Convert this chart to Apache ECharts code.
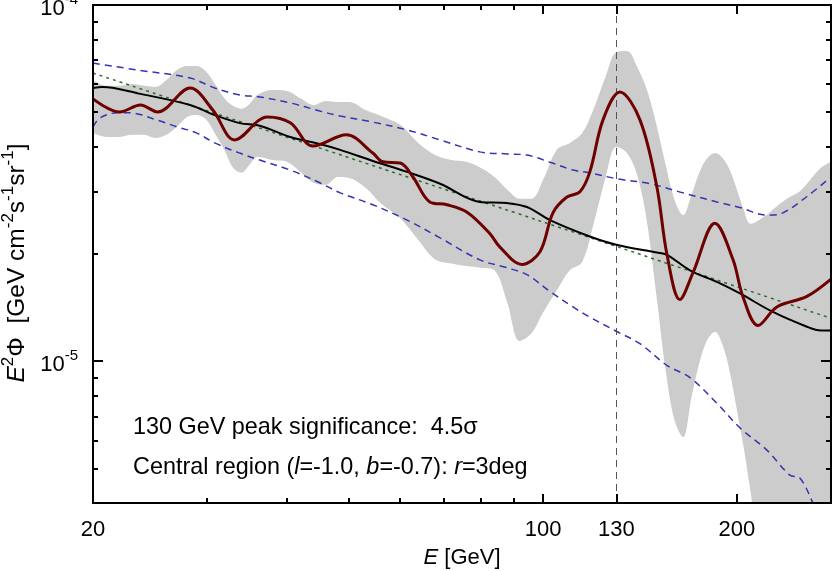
<!DOCTYPE html>
<html>
<head>
<meta charset="utf-8">
<script src="https://cdn.jsdelivr.net/npm/echarts@6.0.0/dist/echarts.min.js"></script>
<style>
html, body { margin: 0; padding: 0; background: #fff; }
#chart { width: 832px; height: 571px; }
</style>
</head>
<body>
<div id="chart"></div>
<script>
// flux values are in units of 1e-5 GeV cm^-2 s^-1 sr^-1
const UNIT = 1e-5;

// tick positions
const xMajor = [20, 100, 130, 200];
const xMinor = [30, 40, 50, 60, 70, 80, 90];
const yMajor = [1e-5, 1e-4];
const yMinor = [5e-6, 6e-6, 7e-6, 8e-6, 9e-6, 2e-5, 3e-5, 4e-5, 5e-5, 6e-5, 7e-5, 8e-5, 9e-5];

// grey band (energy in GeV, lower / upper edge)
const bandE = [20,21,22,23,24,25,26,27,28,29,30,31,32,33,34,35,36,38,40,42,44,46,48,50,
  53,56,60,64,68,72,76,80,84,88,92,96,100,105,110,115,120,125,130,135,140,145,150,155,160,
  165,170,175,180,185,190,195,200,205,210,220,230,240,250,260,270,280];
const bandHi = [6.16,5.93,5.93,6.00,5.93,5.89,6.16,6.57,6.74,6.74,6.49,5.96,5.47,5.21,5.11,5.27,5.59,
  5.77,5.74,5.47,5.24,5.38,5.34,5.34,
  5.07,4.88,4.61,4.10,3.79,3.67,3.63,3.49,3.29,3.03,2.86,2.86,3.23,
  3.92,4.10,4.37,5.15,6.28,7.38,7.43,6.70,5.77,4.61,3.56,2.84,2.57,2.93,3.40,3.72,3.84,3.72,3.44,3.03,
  2.66,2.43,2.54,2.71,2.87,2.99,3.23,3.49,3.63];
const bandLo = [4.37,4.26,4.26,4.32,4.32,4.23,4.32,4.55,4.85,4.91,4.76,4.32,3.92,3.49,3.38,3.56,3.75,
  3.67,3.63,3.40,3.17,3.13,3.29,3.27,
  3.07,2.77,2.52,2.19,1.93,1.88,1.85,1.83,1.80,1.46,1.14,1.20,1.37,
  1.58,1.80,1.90,2.46,3.27,4.00,3.84,3.33,2.46,1.53,0.944,0.683,0.612,0.792,0.993,1.15,1.21,1.11,0.932,0.729,
  0.57,0.43,0.25,0.25,0.25,0.25,0.25,0.25,0.25];

// fitted spectrum (dark red)
const fit = [[20,5.45],[22,5.01],[23.7,5.24],[25.2,5.01],[28.3,5.85],[30.7,5.07],[33.2,4.18],[37.3,4.85],
  [40.5,4.67],[43.9,4.02],[49.5,4.32],[54.4,3.84],[56.4,3.63],[60,3.60],[62.8,3.29],[66.7,2.80],[70.9,2.75],
  [76.2,2.62],[82.7,2.28],[85.7,2.09],[92.7,1.87],[98.9,2.03],[103.6,2.61],[108.9,2.89],[114.1,2.99],
  [118.2,3.40],[123.9,4.76],[131.6,5.70],[141.4,4.76],[150.2,3.09],[155.7,2.00],[163.1,1.49],[170.9,1.77],
  [184.9,2.44],[197.2,1.93],[204.3,1.52],[215.6,1.26],[230.7,1.42],[256.9,1.52],[280,1.70]];

// central model (black)
const central = [[20,5.85],[20.7,5.89],[23.7,5.63],[28.3,5.24],[30.9,4.91],[33.8,4.66],[36.3,4.58],
  [40.5,4.26],[45,4.07],[48.4,3.92],[54.4,3.65],[61.5,3.40],[69.2,3.15],[79.8,2.80],[87.9,2.78],
  [94.4,2.71],[102.5,2.49],[118.2,2.24],[130.4,2.12],[150.2,2.02],[155.7,1.99],[169.1,1.80],
  [186.2,1.67],[202.2,1.55],[227.5,1.375],[256.9,1.25],[270,1.22],[280,1.22]];

// blue dashed envelopes
const envHi = [[20,6.87],[23.7,6.55],[28.3,6.24],[30.9,5.85],[33.8,5.59],[36.3,5.52],[40.5,5.31],[45,5.04],
  [48.4,4.88],[54.4,4.69],[61.5,4.46],[69.2,4.18],[79.8,3.87],[87.9,3.82],[94.4,3.79],[102.5,3.62],
  [111.3,3.44],[118.2,3.38],[130.4,3.25],[146.6,3.15],[164.9,2.97],[186.2,2.80],[202.2,2.70],
  [222.6,2.57],[235.8,2.61],[256.9,2.90],[280,3.29]];
const envLo = [[20,4.55],[20.5,4.82],[21.8,4.98],[22.8,4.98],[25.1,4.76],[27,4.55],[29,4.37],[30.9,4.10],
  [33.8,3.84],[36.3,3.67],[40.5,3.44],[45,3.17],[48.4,2.97],[54.4,2.75],[61.5,2.49],[69.2,2.22],
  [79.8,1.925],[87.9,1.83],[94.4,1.75],[102.5,1.57],[111.3,1.42],[118.2,1.33],[130.4,1.21],[141.4,1.12],
  [155.7,0.974],[169.1,0.90],[186.2,0.762],[202.2,0.65],[222.6,0.563],[241.7,0.479],[250.5,0.47],
  [262.4,0.40],[280,0.30]];

// power law (green dotted)
const powerLaw = [[20,6.44],[100,2.46],[280,1.32]];

const FONT = 'Liberation Sans';
const toPts = pairs => pairs.map(p => [p[0], p[1] * UNIT]);

function xAx(pos, ticks, len, withLabels) {
  return {
    type: 'log', logBase: 10, min: 20, max: 280, position: pos, z: 10,
    axisLine: { show: true, onZero: false, lineStyle: { color: '#000', width: 2 } },
    axisTick: { show: true, inside: true, length: len, customValues: ticks,
      lineStyle: { color: '#000', width: 2 } },
    axisLabel: withLabels ? {
      show: true, customValues: ticks, margin: 16, color: '#000',
      fontFamily: FONT, fontSize: 22, formatter: v => String(Math.round(v))
    } : { show: false },
    splitLine: { show: false }
  };
}
function yAx(pos, ticks, len, withLabels) {
  return {
    type: 'log', logBase: 10, min: 4e-6, max: 1e-4, position: pos, z: 10,
    axisLine: { show: true, onZero: false, lineStyle: { color: '#000', width: 2 } },
    axisTick: { show: true, inside: true, length: len, customValues: ticks,
      lineStyle: { color: '#000', width: 2 } },
    axisLabel: withLabels ? {
      show: true, customValues: ticks, margin: 15, color: '#000', padding: [8, 0, 0, 0],
      formatter: v => '{b|10}{s|' + Math.round(Math.log10(v)) + '}',
      rich: {
        b: { fontFamily: FONT, fontSize: 22, lineHeight: 34, color: '#000' },
        s: { fontFamily: FONT, fontSize: 15, lineHeight: 15, verticalAlign: 'top', color: '#000' }
      }
    } : { show: false },
    splitLine: { show: false }
  };
}

const xAxes = [xAx('bottom', xMajor, 9, true), xAx('top', xMajor, 9, false),
  xAx('bottom', xMinor, 5, false), xAx('top', xMinor, 5, false)];
xAxes[0].name = '{i|E} [GeV]';
xAxes[0].nameLocation = 'middle';
xAxes[0].nameGap = 44;
xAxes[0].nameTextStyle = {
  fontFamily: FONT, fontSize: 22, color: '#000',
  rich: { i: { fontFamily: FONT, fontSize: 22, fontStyle: 'italic', color: '#000' } }
};

const yAxes = [yAx('left', yMajor, 10, true), yAx('right', yMajor, 10, false),
  yAx('left', yMinor, 5, false), yAx('right', yMinor, 5, false)];
yAxes[0].name = '{i|E}{s|2}{n|Φ  [GeV cm}{s|-2}{n|s}{s|-1}{n|sr}{s|-1}{n|]}';
yAxes[0].nameLocation = 'middle';
yAxes[0].nameRotate = 90;
yAxes[0].nameGap = 52;
yAxes[0].nameTextStyle = {
  color: '#000',
  padding: [0, 18, 0, 0],
  rich: {
    n: { fontFamily: FONT, fontSize: 24.5, lineHeight: 34, color: '#000' },
    i: { fontFamily: FONT, fontSize: 24.5, lineHeight: 34, fontStyle: 'italic', color: '#000' },
    s: { fontFamily: FONT, fontSize: 17, lineHeight: 17, verticalAlign: 'top', color: '#000' }
  }
};

const line = (data, color, width, type, z) => ({
  type: 'line', data: toPts(data), symbol: 'none', smooth: 0.35, clip: true, silent: true, z: z,
  lineStyle: { color: color, width: width, type: type }
});

const envHiSeries = line(envHi, '#3535b0', 1.5, [7, 5], 3);
envHiSeries.markLine = {
  silent: true, symbol: 'none', label: { show: false },
  lineStyle: { color: '#555', width: 1, type: [7, 5] },
  data: [{ xAxis: 130 }]
};

const chart = echarts.init(document.getElementById('chart'), null, { renderer: 'canvas' });
chart.setOption({
  backgroundColor: '#fff',
  animation: false,
  grid: { left: 93, right: 1, top: 5, bottom: 68, containLabel: false, outerBoundsMode: 'none' },
  xAxis: xAxes,
  yAxis: yAxes,
  series: [
    // upper edge of band, grey down to the axis
    {
      type: 'line', symbol: 'none', smooth: 0.35, silent: true, z: 1, clip: true,
      data: bandE.map((e, i) => [e, bandHi[i] * UNIT]),
      lineStyle: { opacity: 0 },
      areaStyle: { color: '#cccccc', opacity: 1, origin: 'start' }
    },
    // lower edge of band, white down to the axis
    {
      type: 'line', symbol: 'none', smooth: 0.35, silent: true, z: 2, clip: true,
      data: bandE.map((e, i) => [e, bandLo[i] * UNIT]),
      lineStyle: { opacity: 0 },
      areaStyle: { color: '#ffffff', opacity: 1, origin: 'start' }
    },
    envHiSeries,
    line(envLo, '#3535b0', 1.5, [7, 5], 3),
    line(powerLaw, '#2d6b2d', 1.5, [3, 4], 4),
    line(central, '#000000', 2, 'solid', 5),
    line(fit, '#6e0000', 3, 'solid', 6)
  ],
  graphic: [
    {
      type: 'text', left: 133, top: 416, z: 10,
      style: { text: '130 GeV peak significance:  4.5σ', fontFamily: FONT, fontSize: 23.4, fill: '#000' }
    },
    {
      type: 'text', left: 133, top: 456, z: 10,
      style: {
        text: 'Central region ({i|l}=-1.0, {i|b}=-0.7): {i|r}=3deg',
        fontFamily: FONT, fontSize: 23.4, fill: '#000',
        rich: { i: { fontFamily: FONT, fontSize: 23.4, fontStyle: 'italic', fill: '#000' } }
      }
    }
  ]
});
</script>
</body>
</html>
